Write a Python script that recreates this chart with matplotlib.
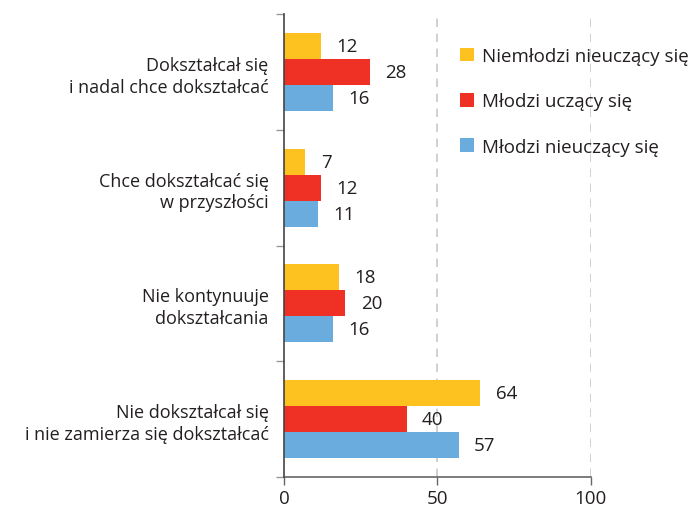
import matplotlib.pyplot as plt
import numpy as np

plt.rcParams['font.family'] = ['Open Sans', 'DejaVu Sans']

categories = [
    "Dokształcał się\ni nadal chce dokształcać",
    "Chce dokształcać się\nw przyszłości",
    "Nie kontynuuje\ndokształcania",
    "Nie dokształcał się\ni nie zamierza się dokształcać",
]
series = ["Niemłodzi nieuczący się", "Młodzi uczący się", "Młodzi nieuczący się"]
niemlodzi = [12, 7, 18, 64]
mlodzi_uczacy = [28, 12, 20, 40]
mlodzi_nieuczacy = [16, 11, 16, 57]
colors = ["#FDC220", "#EE3124", "#6AACDE"]

fig = plt.figure(figsize=(6.91, 5.10), dpi=100)
ax = fig.add_axes([0.411, 0.063, 0.444, 0.907])

n = len(categories)
centers = np.arange(n)[::-1].astype(float)
h = 0.225
offsets = [h, 0.0, -h]
txt = "#231f20"

for vals, off, col, name in zip([niemlodzi, mlodzi_uczacy, mlodzi_nieuczacy],
                                offsets, colors, series):
    bars = ax.barh(centers + off, vals, height=h, color=col, label=name, zorder=3)
    ax.bar_label(bars, labels=[str(v) for v in vals], padding=11,
                 fontsize=13.5, color=txt)

ax.set_xlim(0, 100)
ax.set_ylim(-0.5, n - 0.5)

ax.set_xticks([0, 50, 100])
ax.set_xticklabels(["0", "50", "100"], fontsize=13.5, color=txt)
ax.tick_params(axis="x", length=6, width=1, color="#666666", pad=3)

ax.set_yticks(np.arange(-0.5, n, 1.0))
ax.set_yticklabels([])
ax.tick_params(axis="y", which="major", length=6, width=1, color="#999999")
ax.set_yticks(centers, minor=True)
ax.set_yticklabels(categories, minor=True, fontsize=13, color=txt,
                   linespacing=1.25, ha="right")
ax.tick_params(axis="y", which="minor", length=0, pad=11)

for x in [50, 100]:
    ax.axvline(x, color="#c8c8c8", lw=1.2, ls=(0, (5, 4)), zorder=1)

for s in ["top", "right"]:
    ax.spines[s].set_visible(False)
ax.spines["left"].set_color("#444444")
ax.spines["bottom"].set_color("#666666")
ax.spines["left"].set_linewidth(1.2)
ax.spines["bottom"].set_linewidth(1.2)
ax.spines["left"].set_zorder(4)

leg = fig.legend(loc="upper left", bbox_to_anchor=(0.655, 0.92), frameon=False,
                 fontsize=13.5, handlelength=0.72, handleheight=0.72,
                 handletextpad=0.45, labelspacing=1.45, borderaxespad=0)
for t in leg.get_texts():
    t.set_color(txt)

fig.savefig("out.png", dpi=100)
